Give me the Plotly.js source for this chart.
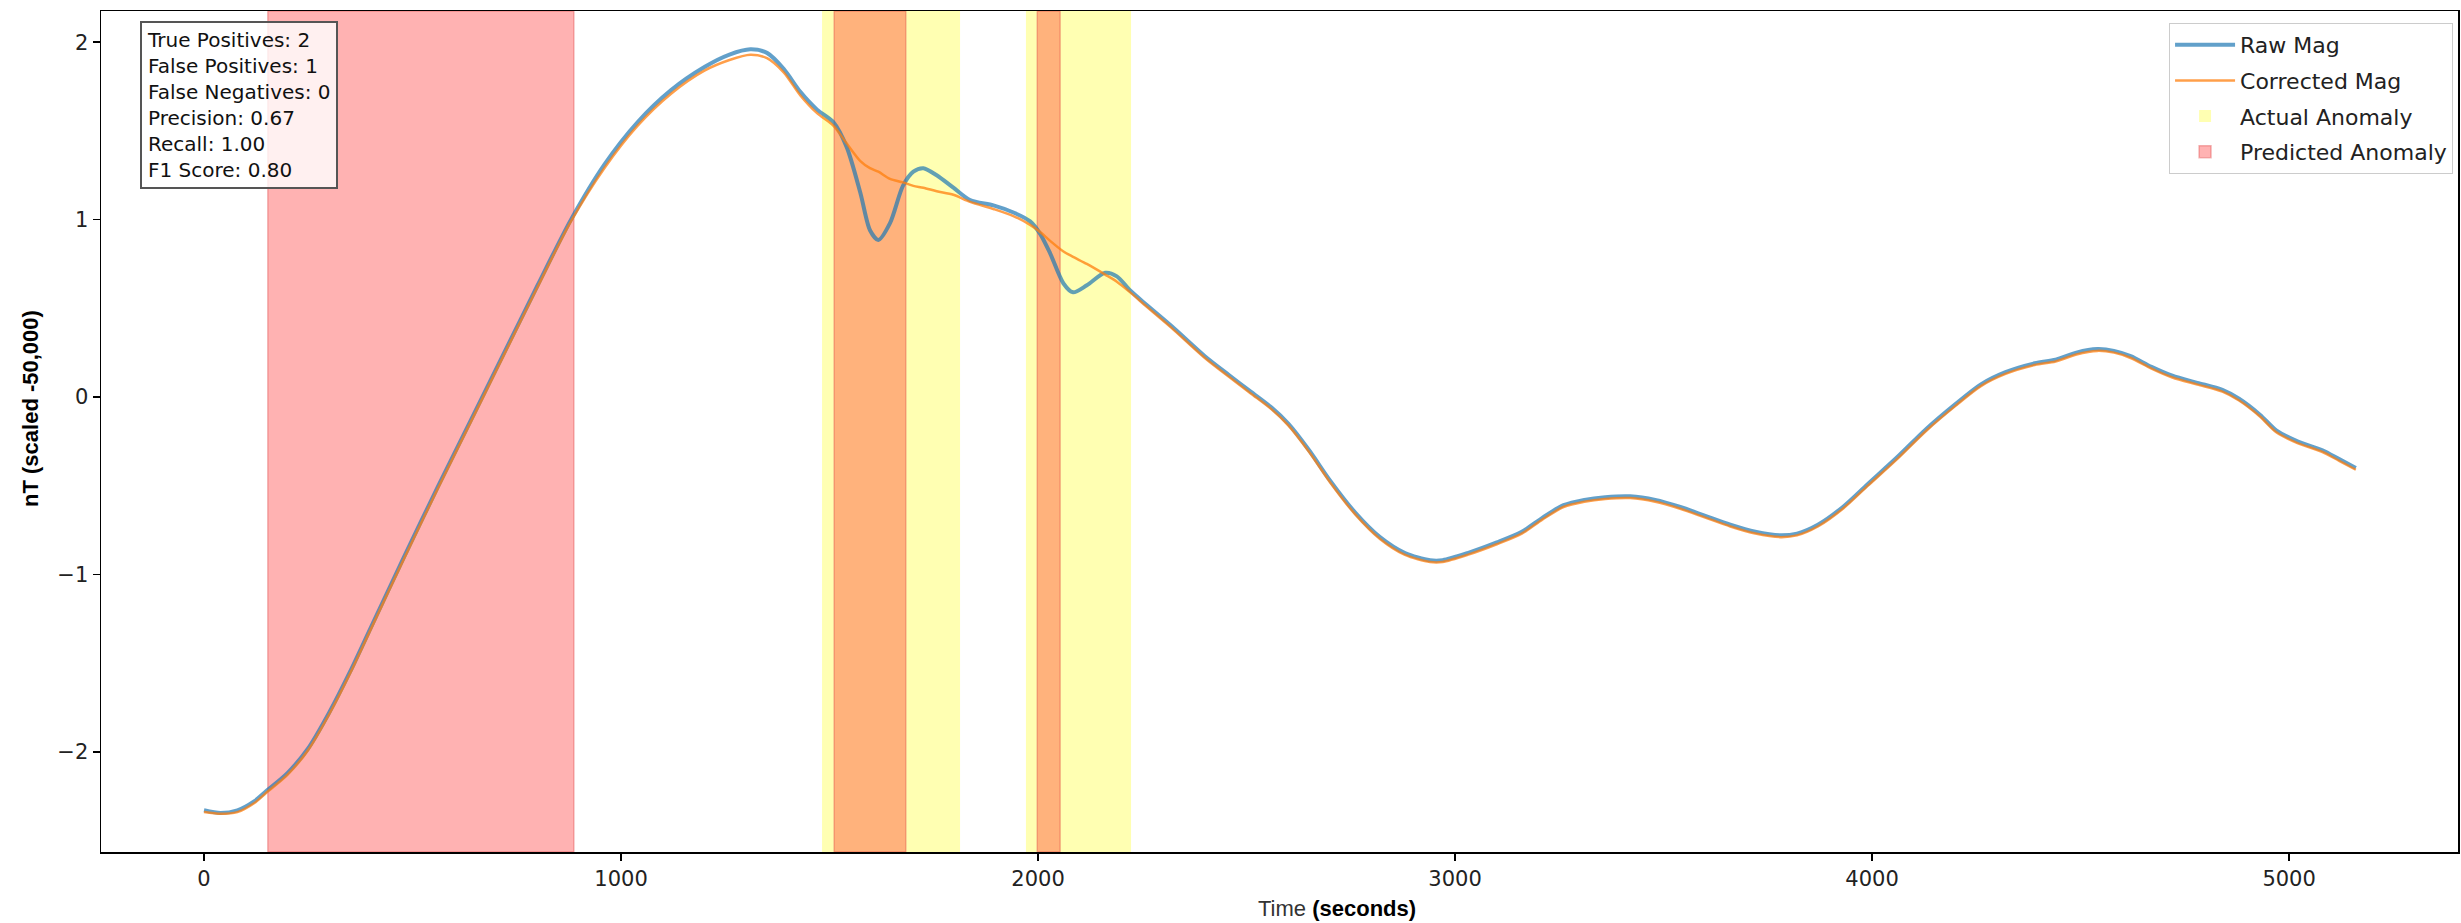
<!DOCTYPE html>
<html>
<head>
<meta charset="utf-8">
<script src="https://cdn.plot.ly/plotly-3.0.1.min.js"></script>
<style>html,body{margin:0;padding:0;background:#fff;}#chart{width:2461px;height:923px;}</style>
</head>
<body>
<div id="chart"></div>
<script>
// ---- data ----
const timeSec = [0, 40, 80, 120, 150, 200, 250, 300, 350, 400, 480, 560, 640, 720, 800, 880, 960, 1040, 1120, 1200, 1260, 1310, 1350, 1390, 1430, 1470, 1509, 1541, 1574, 1597, 1617, 1645, 1676, 1701, 1725, 1757, 1797, 1837, 1893, 1941, 1981, 2005, 2029, 2061, 2084, 2117, 2161, 2189, 2221, 2260, 2320, 2400, 2460, 2510, 2560, 2600, 2650, 2700, 2760, 2820, 2880, 2940, 2970, 3030, 3100, 3160, 3210, 3260, 3310, 3360, 3420, 3480, 3540, 3600, 3660, 3720, 3780, 3820, 3870, 3930, 3990, 4060, 4130, 4200, 4260, 4320, 4390, 4440, 4490, 4540, 4580, 4620, 4670, 4720, 4780, 4840, 4880, 4930, 4970, 5020, 5080, 5120, 5160];
const rawMag = [-2.33, -2.345, -2.33, -2.28, -2.22, -2.12, -1.98, -1.78, -1.55, -1.30, -0.90, -0.51, -0.13, 0.25, 0.63, 1.00, 1.31, 1.55, 1.73, 1.86, 1.93, 1.96, 1.94, 1.85, 1.72, 1.62, 1.55, 1.41, 1.15, 0.94, 0.885, 0.98, 1.19, 1.27, 1.29, 1.25, 1.18, 1.11, 1.08, 1.04, 0.99, 0.92, 0.81, 0.64, 0.59, 0.63, 0.70, 0.68, 0.60, 0.52, 0.40, 0.23, 0.12, 0.03, -0.06, -0.15, -0.30, -0.47, -0.65, -0.79, -0.88, -0.92, -0.92, -0.88, -0.82, -0.76, -0.68, -0.61, -0.58, -0.565, -0.56, -0.58, -0.62, -0.67, -0.72, -0.76, -0.78, -0.77, -0.72, -0.62, -0.49, -0.34, -0.18, -0.04, 0.07, 0.14, 0.19, 0.21, 0.25, 0.27, 0.26, 0.23, 0.17, 0.12, 0.08, 0.04, -0.01, -0.10, -0.19, -0.25, -0.30, -0.35, -0.40];
const correctedMag = [-2.34, -2.35, -2.34, -2.29, -2.23, -2.13, -1.99, -1.79, -1.56, -1.31, -0.91, -0.52, -0.14, 0.24, 0.62, 0.99, 1.29, 1.53, 1.71, 1.84, 1.90, 1.93, 1.91, 1.83, 1.70, 1.60, 1.53, 1.43, 1.33, 1.29, 1.27, 1.23, 1.21, 1.19, 1.18, 1.16, 1.14, 1.10, 1.06, 1.02, 0.97, 0.93, 0.88, 0.82, 0.79, 0.75, 0.69, 0.65, 0.59, 0.51, 0.39, 0.22, 0.11, 0.02, -0.07, -0.16, -0.31, -0.48, -0.66, -0.80, -0.89, -0.93, -0.93, -0.89, -0.83, -0.77, -0.69, -0.62, -0.59, -0.575, -0.57, -0.59, -0.63, -0.68, -0.73, -0.77, -0.79, -0.78, -0.73, -0.63, -0.50, -0.35, -0.19, -0.05, 0.06, 0.13, 0.18, 0.20, 0.24, 0.26, 0.25, 0.22, 0.16, 0.11, 0.07, 0.03, -0.02, -0.11, -0.20, -0.26, -0.31, -0.36, -0.41];

const actualStart = [1482, 1971];
const actualEnd = [1813, 2223];
const predictedStart = [153, 1511, 1998];
const predictedEnd = [887, 1683, 2053];

const metricLabels = ["True Positives", "False Positives", "False Negatives", "Precision", "Recall", "F1 Score"];
const metricValues = ["2", "1", "0", "0.67", "1.00", "0.80"];

const xRange = [-247, 5405];
const yRange = [-2.565, 2.176];

// ---- anomaly spans as shapes (x in data units, full plot height) ----
function bandShapes(starts, ends, name, fill, lineColor, rank) {
  return starts.map((s, i) => ({
    type: "rect", xref: "x", yref: "y domain", x0: s, x1: ends[i], y0: 0, y1: 1,
    fillcolor: fill, line: {color: lineColor, width: lineColor ? 1.5 : 0},
    layer: "below", name: name, showlegend: i === 0, legendgroup: name, legendrank: rank
  }));
}
const shapes = [].concat(
  bandShapes(actualStart, actualEnd, "Actual Anomaly", "rgba(255,255,0,0.3)", "rgba(255,255,0,0.0)", 3),
  bandShapes(predictedStart, predictedEnd, "Predicted Anomaly", "rgba(255,0,0,0.3)", "rgba(220,60,60,0.35)", 4)
);

const legendFont = {family: "DejaVu Sans", size: 22, color: "#222"};

const traces = [
  {type: "scatter", mode: "lines", name: "Raw Mag", x: timeSec, y: rawMag,
   line: {color: "rgba(31,119,180,0.7)", width: 4, shape: "spline", smoothing: 0.8}, legendgroup: "a", legendrank: 1},
  {type: "scatter", mode: "lines", name: "Corrected Mag", x: timeSec, y: correctedMag,
   line: {color: "rgba(255,127,14,0.75)", width: 2.5, shape: "spline", smoothing: 0.8}, legendgroup: "b", legendrank: 2}
];

const boxText = metricLabels.map((l, i) => l + ": " + metricValues[i]).join("<br>");

const layout = {
  width: 2461, height: 923,
  margin: {l: 101, r: 3, t: 11, b: 71, pad: 0},
  paper_bgcolor: "#fff", plot_bgcolor: "#fff",
  showlegend: true,
  shapes: shapes,
  legend: {
    x: 0.9979, y: 0.9857, xanchor: "right", yanchor: "top",
    bgcolor: "rgba(255,255,255,0.8)", bordercolor: "#cccccc", borderwidth: 1,
    font: legendFont, traceorder: "grouped", tracegroupgap: 4, itemwidth: 60
  },
  xaxis: {
    range: xRange, autorange: false, dtick: 1000, tick0: 0,
    showgrid: false, zeroline: false,
    showline: true, mirror: true, linecolor: "#000", linewidth: 1.5,
    ticks: "outside", ticklen: 7, tickwidth: 1.5, tickcolor: "#000",
    tickfont: {family: "DejaVu Sans", size: 21, color: "#222"}
  },
  yaxis: {
    range: yRange, autorange: false, dtick: 1, tick0: 0,
    showgrid: false, zeroline: false,
    showline: true, mirror: true, linecolor: "#000", linewidth: 1.5,
    ticks: "outside", ticklen: 7, tickwidth: 1.5, tickcolor: "#000",
    tickfont: {family: "DejaVu Sans", size: 21, color: "#222"}
  },
  annotations: [
    {text: boxText, xref: "paper", yref: "paper", x: 0.0166, y: 0.988, xanchor: "left", yanchor: "top",
     align: "left", showarrow: false, font: {family: "DejaVu Sans", size: 20, color: "#111"},
     bgcolor: "rgba(255,255,255,0.8)", bordercolor: "#555", borderwidth: 2, borderpad: 5},
    {text: "<span style='color:#333'>Time</span> <b>(seconds)</b>", xref: "paper", yref: "paper",
     x: 0.5244, y: 0, xanchor: "center", yanchor: "middle", yshift: -56, showarrow: false,
     font: {family: "Liberation Sans", size: 22, color: "#000"}},
    {text: "<b>nT (scaled -50,000)</b>", xref: "paper", yref: "paper", textangle: -90,
     x: 0, y: 0.5268, xanchor: "center", yanchor: "middle", xshift: -70, showarrow: false,
     font: {family: "Liberation Sans", size: 22, color: "#000"}}
  ]
};

Plotly.newPlot("chart", traces, layout, {staticPlot: true, displayModeBar: false});
</script>
</body>
</html>
